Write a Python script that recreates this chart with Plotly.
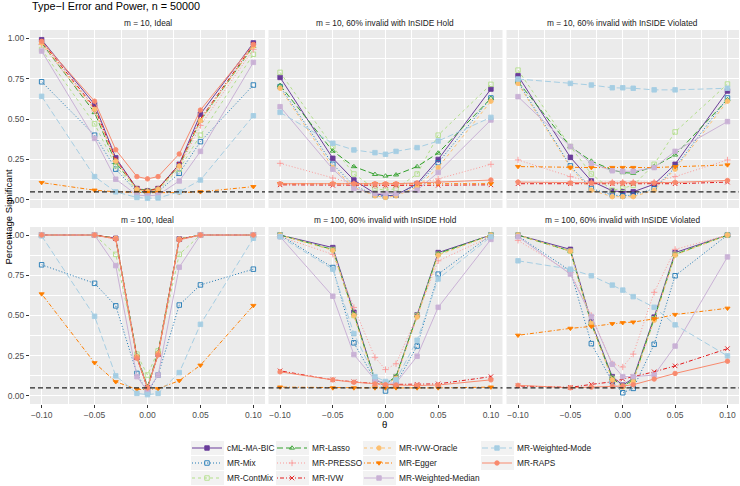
import plotly.graph_objects as go

theta = [-0.10, -0.05, -0.03, -0.01, 0.00, 0.01, 0.03, 0.05, 0.10]
x_tick_vals = [-0.10, -0.05, 0.00, 0.05, 0.10]
x_tick_text = ["\u22120.10", "\u22120.05", "0.00", "0.05", "0.10"]
y_tick_vals = [0.00, 0.25, 0.50, 0.75, 1.00]
y_tick_text = ["0.00", "0.25", "0.50", "0.75", "1.00"]

methods = ["cML-MA-BIC", "MR-Mix", "MR-ContMix", "MR-Lasso", "MR-PRESSO", "MR-IVW",
           "MR-IVW-Oracle", "MR-Egger", "MR-Weighted-Median", "MR-Weighted-Mode", "MR-RAPS"]

panel_titles = ["m = 10, Ideal", "m = 10, 60% invalid with InSIDE Hold", "m = 10, 60% invalid with InSIDE Violated",
                "m = 100, Ideal", "m = 100, 60% invalid with InSIDE Hold", "m = 100, 60% invalid with InSIDE Violated"]

m10_ideal = {
    "cML-MA-BIC":         [0.99, 0.59, 0.26, 0.07, 0.055, 0.07, 0.22, 0.53, 0.97],
    "MR-Mix":             [0.73, 0.40, 0.19, 0.05, 0.04, 0.05, 0.165, 0.36, 0.71],
    "MR-ContMix":         [0.93, 0.47, 0.21, 0.06, 0.05, 0.06, 0.19, 0.40, 0.90],
    "MR-Lasso":           [0.97, 0.54, 0.23, 0.07, 0.06, 0.07, 0.21, 0.49, 0.95],
    "MR-PRESSO":          [0.96, 0.55, 0.24, 0.07, 0.055, 0.07, 0.20, 0.46, 0.93],
    "MR-IVW":             [0.98, 0.57, 0.25, 0.07, 0.055, 0.07, 0.22, 0.50, 0.96],
    "MR-IVW-Oracle":      [0.97, 0.56, 0.24, 0.065, 0.05, 0.065, 0.21, 0.49, 0.95],
    "MR-Egger":           [0.107, 0.06, 0.05, 0.045, 0.045, 0.045, 0.045, 0.05, 0.082],
    "MR-Weighted-Median": [0.92, 0.38, 0.128, 0.03, 0.025, 0.03, 0.117, 0.30, 0.85],
    "MR-Weighted-Mode":   [0.64, 0.144, 0.05, 0.015, 0.01, 0.012, 0.05, 0.123, 0.52],
    "MR-RAPS":            [0.98, 0.61, 0.31, 0.144, 0.13, 0.144, 0.284, 0.555, 0.96],
}

m10_hold = {
    "cML-MA-BIC":         [0.757, 0.257, 0.123, 0.04, 0.025, 0.03, 0.10, 0.25, 0.685],
    "MR-Mix":             [0.70, 0.22, 0.09, 0.03, 0.02, 0.03, 0.09, 0.23, 0.63],
    "MR-ContMix":         [0.788, 0.33, 0.16, 0.07, 0.06, 0.07, 0.16, 0.40, 0.714],
    "MR-Lasso":           [0.708, 0.302, 0.206, 0.158, 0.148, 0.155, 0.206, 0.29, 0.628],
    "MR-PRESSO":          [0.226, 0.135, 0.10, 0.09, 0.09, 0.09, 0.10, 0.13, 0.22],
    "MR-IVW":             [0.093, 0.09, 0.09, 0.09, 0.09, 0.09, 0.09, 0.09, 0.093],
    "MR-IVW-Oracle":      [0.69, 0.20, 0.08, 0.025, 0.015, 0.025, 0.08, 0.20, 0.61],
    "MR-Egger":           [0.10, 0.10, 0.10, 0.10, 0.10, 0.10, 0.10, 0.10, 0.10],
    "MR-Weighted-Median": [0.576, 0.19, 0.07, 0.04, 0.04, 0.04, 0.06, 0.17, 0.494],
    "MR-Weighted-Mode":   [0.541, 0.35, 0.309, 0.292, 0.282, 0.30, 0.323, 0.364, 0.51],
    "MR-RAPS":            [0.10, 0.10, 0.10, 0.10, 0.10, 0.10, 0.105, 0.11, 0.123],
}

m10_violated = {
    "cML-MA-BIC":         [0.767, 0.263, 0.117, 0.056, 0.05, 0.05, 0.097, 0.22, 0.673],
    "MR-Mix":             [0.73, 0.21, 0.07, 0.03, 0.025, 0.03, 0.07, 0.20, 0.63],
    "MR-ContMix":         [0.802, 0.33, 0.16, 0.06, 0.072, 0.09, 0.22, 0.42, 0.716],
    "MR-Lasso":           [0.73, 0.329, 0.24, 0.185, 0.169, 0.165, 0.206, 0.278, 0.62],
    "MR-PRESSO":          [0.247, 0.144, 0.11, 0.11, 0.11, 0.11, 0.11, 0.144, 0.247],
    "MR-IVW":             [0.10, 0.10, 0.10, 0.10, 0.10, 0.10, 0.10, 0.10, 0.11],
    "MR-IVW-Oracle":      [0.72, 0.20, 0.06, 0.02, 0.02, 0.02, 0.06, 0.19, 0.61],
    "MR-Egger":           [0.206, 0.20, 0.20, 0.20, 0.20, 0.20, 0.20, 0.205, 0.216],
    "MR-Weighted-Median": [0.638, 0.33, 0.226, 0.18, 0.177, 0.177, 0.20, 0.30, 0.484],
    "MR-Weighted-Mode":   [0.747, 0.72, 0.71, 0.693, 0.693, 0.69, 0.68, 0.68, 0.69],
    "MR-RAPS":            [0.11, 0.105, 0.105, 0.105, 0.105, 0.105, 0.105, 0.108, 0.12],
}

m100_ideal = {
    "cML-MA-BIC":         [1.00, 1.00, 0.98, 0.24, 0.05, 0.26, 0.975, 1.00, 1.00],
    "MR-Mix":             [0.815, 0.70, 0.56, 0.14, 0.02, 0.13, 0.565, 0.69, 0.788],
    "MR-ContMix":         [1.00, 1.00, 0.88, 0.26, 0.13, 0.28, 0.88, 1.00, 1.00],
    "MR-Lasso":           [1.00, 1.00, 0.98, 0.25, 0.06, 0.27, 0.975, 1.00, 1.00],
    "MR-PRESSO":          [1.00, 1.00, 0.975, 0.24, 0.05, 0.26, 0.97, 1.00, 1.00],
    "MR-IVW":             [1.00, 1.00, 0.98, 0.24, 0.05, 0.26, 0.975, 1.00, 1.00],
    "MR-IVW-Oracle":      [1.00, 1.00, 0.98, 0.245, 0.05, 0.265, 0.975, 1.00, 1.00],
    "MR-Egger":           [0.634, 0.206, 0.088, 0.041, 0.04, 0.045, 0.095, 0.191, 0.562],
    "MR-Weighted-Median": [1.00, 1.00, 0.81, 0.12, 0.03, 0.13, 0.80, 1.00, 1.00],
    "MR-Weighted-Mode":   [0.995, 0.495, 0.125, 0.016, 0.008, 0.016, 0.145, 0.445, 0.98],
    "MR-RAPS":            [1.00, 1.00, 0.975, 0.235, 0.05, 0.255, 0.97, 1.00, 1.00],
}

m100_hold = {
    "cML-MA-BIC":         [1.00, 0.922, 0.52, 0.10, 0.074, 0.12, 0.504, 0.891, 1.00],
    "MR-Mix":             [1.00, 0.798, 0.33, 0.10, 0.031, 0.078, 0.31, 0.757, 1.00],
    "MR-ContMix":         [1.00, 0.91, 0.50, 0.10, 0.075, 0.12, 0.50, 0.88, 1.00],
    "MR-Lasso":           [1.00, 0.91, 0.51, 0.10, 0.075, 0.12, 0.50, 0.885, 1.00],
    "MR-PRESSO":          [0.99, 0.88, 0.55, 0.24, 0.164, 0.20, 0.50, 0.84, 0.99],
    "MR-IVW":             [0.156, 0.10, 0.088, 0.078, 0.072, 0.072, 0.072, 0.075, 0.12],
    "MR-IVW-Oracle":      [1.00, 0.905, 0.50, 0.09, 0.07, 0.11, 0.49, 0.875, 1.00],
    "MR-Egger":           [0.055, 0.05, 0.05, 0.05, 0.05, 0.05, 0.05, 0.05, 0.055],
    "MR-Weighted-Median": [0.99, 0.62, 0.257, 0.10, 0.08, 0.08, 0.247, 0.551, 0.973],
    "MR-Weighted-Mode":   [0.99, 0.788, 0.387, 0.12, 0.09, 0.10, 0.346, 0.727, 0.99],
    "MR-RAPS":            [0.15, 0.10, 0.085, 0.075, 0.07, 0.068, 0.065, 0.068, 0.10],
}

m100_violated = {
    "cML-MA-BIC":         [1.00, 0.911, 0.46, 0.12, 0.067, 0.11, 0.49, 0.891, 1.00],
    "MR-Mix":             [0.994, 0.778, 0.325, 0.088, 0.02, 0.047, 0.321, 0.747, 1.00],
    "MR-ContMix":         [1.00, 0.90, 0.45, 0.11, 0.06, 0.10, 0.48, 0.88, 1.00],
    "MR-Lasso":           [1.00, 0.90, 0.45, 0.11, 0.06, 0.10, 0.48, 0.88, 1.00],
    "MR-PRESSO":          [0.967, 0.767, 0.50, 0.20, 0.18, 0.26, 0.644, 0.911, 1.00],
    "MR-IVW":             [0.062, 0.053, 0.072, 0.088, 0.105, 0.12, 0.15, 0.187, 0.294],
    "MR-IVW-Oracle":      [1.00, 0.90, 0.45, 0.10, 0.055, 0.09, 0.47, 0.875, 1.00],
    "MR-Egger":           [0.377, 0.42, 0.432, 0.449, 0.455, 0.459, 0.479, 0.506, 0.545],
    "MR-Weighted-Median": [0.99, 0.757, 0.494, 0.197, 0.12, 0.12, 0.13, 0.31, 0.864],
    "MR-Weighted-Mode":   [0.84, 0.788, 0.747, 0.689, 0.658, 0.617, 0.551, 0.442, 0.249],
    "MR-RAPS":            [0.066, 0.051, 0.055, 0.06, 0.062, 0.07, 0.105, 0.14, 0.216],
}

panels = [m10_ideal, m10_hold, m10_violated, m100_ideal, m100_hold, m100_violated]
alpha_level = 0.05

colors = {
    "cML-MA-BIC": "#6A3D9A", "MR-Mix": "#1F78B4", "MR-ContMix": "#B2DF8A", "MR-Lasso": "#33A02C",
    "MR-PRESSO": "#FB9A99", "MR-IVW": "#E31A1C", "MR-IVW-Oracle": "#FDBF6F", "MR-Egger": "#FF7F00",
    "MR-Weighted-Median": "#CAB2D6", "MR-Weighted-Mode": "#A6CEE3", "MR-RAPS": "#F88A6E",
}
DOT, DASH, LONG, DOTDASH = "1px,2px", "3px,3px", "6px,3px", "1px,2px,4px,2px"
dashes = {
    "cML-MA-BIC": "solid", "MR-Mix": DOT, "MR-ContMix": DASH, "MR-Lasso": LONG,
    "MR-PRESSO": DOT, "MR-IVW": DOTDASH, "MR-IVW-Oracle": DASH, "MR-Egger": DOTDASH,
    "MR-Weighted-Median": "solid", "MR-Weighted-Mode": LONG, "MR-RAPS": "solid",
}
symbols = {
    "cML-MA-BIC": "square", "MR-Mix": "square-open", "MR-ContMix": "square-open", "MR-Lasso": "triangle-up-open",
    "MR-PRESSO": "cross-thin-open", "MR-IVW": "x-thin-open", "MR-IVW-Oracle": "circle", "MR-Egger": "triangle-down",
    "MR-Weighted-Median": "square", "MR-Weighted-Mode": "square", "MR-RAPS": "circle",
}

W, H = 740, 486
col_px = [(30, 265), (268.5, 502.5), (506.5, 739)]
row_px = [(30, 208), (227, 404)]
strip_y = [23, 220]

fig = go.Figure()
layout = dict(width=W, height=H, autosize=False,
              margin=dict(l=0, r=0, t=0, b=0, pad=0, autoexpand=False),
              paper_bgcolor="white", plot_bgcolor="#EBEBEB",
              font=dict(family="Liberation Sans, Arial, sans-serif", color="#1A1A1A"),
              title=dict(text="Type\u2212I Error and Power, n = 50000", x=32 / W, xanchor="left", xref="paper",
                         y=1 - 6 / H, yanchor="middle", yref="container",
                         font=dict(size=10.8, color="#000000"), pad=dict(l=0, r=0, t=0, b=0)),
              annotations=[], shapes=[])

# legend placement (column-major like ggplot): text start x per column, row centre y
leg_text_x = [228, 313, 400, 518]
leg_row_y = [448, 463, 478]

for pi, data in enumerate(panels):
    r, c = divmod(pi, 3)
    ax = "" if pi == 0 else str(pi + 1)
    x0, x1 = col_px[c]
    y0, y1 = row_px[r]
    layout["xaxis" + ax] = dict(
        domain=[x0 / W, x1 / W], anchor="y" + ax, range=[-0.111, 0.111], automargin=False,
        tickvals=x_tick_vals, ticktext=x_tick_text, showticklabels=(r == 1),
        ticks="outside" if r == 1 else "", ticklen=3, tickcolor="#333333", tickwidth=1,
        tickfont=dict(size=8.5, color="#4D4D4D"),
        showgrid=True, gridcolor="white", gridwidth=1, zeroline=False, showline=False,
        minor=dict(tickvals=[-0.075, -0.025, 0.025, 0.075], showgrid=True, gridcolor="white", gridwidth=0.5, ticks=""),
    )
    layout["yaxis" + ax] = dict(
        domain=[1 - y1 / H, 1 - y0 / H], anchor="x" + ax, range=[-0.05, 1.05], automargin=False,
        tickvals=y_tick_vals, ticktext=y_tick_text, showticklabels=(c == 0),
        ticks="outside" if c == 0 else "", ticklen=3, tickcolor="#333333", tickwidth=1,
        tickfont=dict(size=8.5, color="#4D4D4D"),
        showgrid=True, gridcolor="white", gridwidth=1, zeroline=False, showline=False,
        minor=dict(tickvals=[0.125, 0.375, 0.625, 0.875], showgrid=True, gridcolor="white", gridwidth=0.5, ticks=""),
    )
    layout["annotations"].append(dict(
        text=panel_titles[pi], xref="paper", yref="paper", x=(x0 + x1) / 2 / W, y=1 - strip_y[r] / H,
        xanchor="center", yanchor="middle", showarrow=False, font=dict(size=8.3, color="#1A1A1A")))
    layout["shapes"].append(dict(
        type="line", xref="x" + ax + " domain", yref="y" + ax, x0=0, x1=1, y0=alpha_level, y1=alpha_level,
        line=dict(color="#262626", width=1.2, dash="5px,3px"), layer="above"))
    for mi, m in enumerate(methods):
        leg = "legend" if mi == 0 else "legend%d" % (mi + 1)
        fig.add_trace(go.Scatter(
            x=theta, y=data[m], mode="lines+markers", name=m,
            xaxis="x" + ax, yaxis="y" + ax,
            line=dict(color=colors[m], width=1.0, dash=dashes[m]),
            marker=dict(symbol=symbols[m], size=4.5, color=colors[m], line=dict(color=colors[m], width=0.9)),
            legendgroup=m, showlegend=(pi == 0), legend=leg,
        ))

for mi, m in enumerate(methods):
    col, row = divmod(mi, 3)
    key = "legend" if mi == 0 else "legend%d" % (mi + 1)
    tx = leg_text_x[col]
    ty = leg_row_y[row]
    layout[key] = dict(
        x=(tx - 41) / W, y=1 - ty / H, xanchor="left", yanchor="middle",
        xref="paper", yref="paper", bgcolor="rgba(0,0,0,0)", borderwidth=0,
        font=dict(size=8.3, color="#1A1A1A"), itemwidth=30, orientation="v",
        itemclick=False, itemdoubleclick=False,
    )
    layout["shapes"].append(dict(
        type="rect", xref="paper", yref="paper", x0=(tx - 37) / W, x1=(tx - 4) / W,
        y0=1 - (ty + 7) / H, y1=1 - (ty - 7) / H, fillcolor="#F2F2F2", line=dict(width=0), layer="below"))

layout["annotations"] += [
    dict(text="Percentage Significant", xref="paper", yref="paper", x=0, y=1 - 217 / H,
         xanchor="left", yanchor="middle", textangle=-90, showarrow=False, font=dict(size=9.5, color="#000000")),
    dict(text="\u03b8", xref="paper", yref="paper", x=384.5 / W, y=1 - 424 / H,
         xanchor="center", yanchor="middle", showarrow=False, font=dict(size=9.5, color="#000000")),
]

fig.update_layout(**layout)
fig.write_html("out.html", config={"displayModeBar": False},
               post_script="document.body.style.margin='0px';document.body.style.padding='0px';")
